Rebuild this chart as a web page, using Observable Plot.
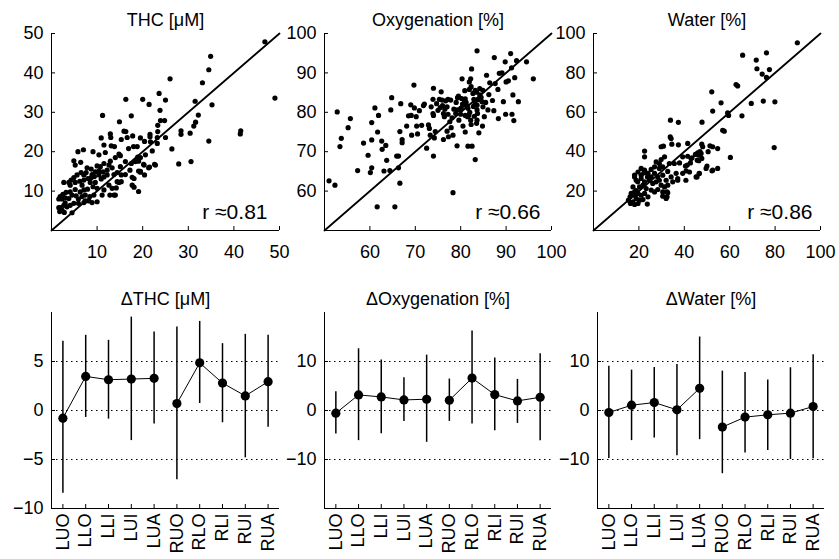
<!DOCTYPE html>
<html><head><meta charset="utf-8">
<script src="https://cdn.jsdelivr.net/npm/d3@7"></script>
<script src="https://cdn.jsdelivr.net/npm/@observablehq/plot@0.6"></script>
<style>
body{margin:0;background:#fff;}
#root{position:relative;width:839px;height:559px;overflow:hidden;background:#fff;}
#root svg{position:absolute;}
</style></head><body><div id="root"></div>
<script>
// ---------- DATA ----------
const scatterTitles = ["THC [μM]", "Oxygenation [%]", "Water [%]"];
const rLabels = ["r ≈0.81", "r ≈0.66", "r ≈0.86"];
const thcTicks = [10, 20, 30, 40, 50];
const oxyTicks = [60, 70, 80, 90, 100];
const waterTicks = [20, 40, 60, 80, 100];

const thcPoints = [
[46.8,47.9],[49.0,33.6],[34.9,44.2],[34.5,40.8],[33.1,37.5],[26.0,38.5],[31.5,32.8],[35.2,31.9],[32.2,29.3],[31.6,27.5],[31.2,26.5],[30.4,24.7],[34.5,22.7],[28.4,25.3],[28.4,24.4],[26.4,20.7],[27.9,16.9],[30.6,17.5],[41.5,25.3],[41.4,24.5],[16.3,33.3],[20.0,33.3],[21.4,32.0],[25.0,33.1],[23.6,34.8],[23.8,30.5],[23.9,27.9],[24.8,27.9],[23.3,26.7],[23.2,23.6],[25.0,23.6],[23.2,22.1],[21.6,24.4],[21.6,23.8],[20.6,19.2],[22.6,16.8],[21.3,15.9],[20.2,16.8],[19.5,14.8],[11.2,29.2],[14.9,27.6],[17.5,29.1],[16.3,25.1],[16.6,23.6],[17.8,24.0],[18.8,21.3],[12.9,24.5],[13.0,23.6],[10.9,23.5],[11.5,21.7],[14.8,19.4],[17.7,13.5],[18.1,11.0],[19.1,9.9],[13.7,9.0],[12.8,9.0],[15.3,12.4],[14.4,12.4],[7.0,20.5],[5.8,20.0],[4.9,17.7],[6.4,17.3],[9.1,20.0],[10.4,19.2],[2.7,12.2],[3.0,7.0],[1.6,5.8],[4.5,4.5],
[15.9,25.2],[15.3,23.1],[19.5,23.5],[21.7,22.5],[16.9,20.8],[18.0,21.3],[13.1,21.5],[13.8,21.3],[11.8,19.8],[15.1,19.0],[18.9,18.6],[19.5,18.5],[22.1,20.2],[5.2,16.6],[7.8,15.9],[8.7,15.6],[10.0,16.4],[10.7,16.2],[11.5,17.0],[12.6,16.6],[12.9,17.6],[13.3,15.9],[12.2,15.3],[11.3,14.9],[10.4,15.1],[9.6,14.9],[8.9,14.2],[7.6,14.7],[7.1,14.1],[6.5,14.7],[5.6,14.1],[4.9,13.4],[4.3,12.8],[3.8,12.2],[4.1,11.5],[5.2,12.2],[6.2,12.5],[7.1,12.8],[8.0,13.2],[8.7,13.4],[9.4,13.7],[10.4,14.1],[10.9,13.1],[11.5,13.6],[12.2,14.1],[13.7,14.2],[14.4,14.7],[15.3,14.1],[16.2,14.2],[17.2,15.3],[17.5,17.0],[18.4,17.5],[19.1,17.6],[18.1,13.2],[19.1,15.1],[20.3,16.6],[22.8,16.6],[17.7,11.5],[14.8,12.2],[14.2,10.8],[14.0,9.0],[11.1,9.0],[10.0,10.7],[9.1,11.1],[7.9,10.5],[7.1,10.3],[6.3,9.8],[5.2,10.4],[4.1,9.8],[3.2,9.7],[2.5,9.2],[1.9,8.6],[1.6,8.0],[2.3,8.0],[3.0,8.3],[3.8,8.1],[4.5,9.0],[5.4,8.8],[5.9,8.0],[6.7,8.6],[7.4,9.0],[8.4,8.6],[9.3,9.0],[10.0,7.3],[8.9,7.1],[8.2,7.5],[7.1,7.1],[5.9,6.9],[4.9,6.9],[4.1,6.4],[3.4,6.0],[2.7,6.4],[1.9,5.8],[1.8,4.8],[2.3,5.2],[2.8,4.6],[7.4,7.5],[11.5,10.3],[12.6,11.5],[13.3,10.7],[8.5,12.2],[9.6,12.2],[6.7,11.5],[15.1,16.2],[16.2,17.5],[14.0,18.5],
[20.4,22.6],[23.3,25.1],[19.5,15.0],[20.4,14.1],[21.5,16.1]
];

const oxyPoints = [
[51.0,62.6],[52.3,61.5],[52.8,80.1],[53.7,73.4],[53.4,71.3],[55.7,78.4],[55.2,76.1],[57.3,65.2],[58.6,72.2],[59.6,69.1],[60.1,64.7],[60.4,65.9],[60.4,73.0],[60.4,77.4],[61.1,81.1],[61.7,75.0],[61.9,79.2],[61.6,56.0],[62.6,72.7],[62.7,70.6],[63.5,71.6],[63.1,65.1],[63.7,67.8],[64.4,65.2],[64.8,83.7],[64.6,80.6],[65.5,56.0],[65.9,68.9],[66.3,68.9],[66.3,65.9],[66.6,62.0],[66.6,75.1],[66.8,82.2],[67.1,73.1],[67.1,72.3],[68.1,76.5],[68.5,79.1],[69.0,81.9],[69.1,79.2],[69.2,74.2],[69.7,86.9],[69.8,81.1],[70.2,78.9],[70.3,76.5],[70.5,74.5],[70.9,80.4],[71.4,76.7],[71.8,81.7],[72.0,82.1],[72.5,70.9],[72.9,76.8],[73.1,75.9],[73.3,74.2],[73.5,81.4],[73.9,83.3],[74.0,86.1],[73.9,79.7],[74.0,79.2],[74.2,73.5],[74.0,68.9],[74.4,75.1],[74.7,82.2],[75.3,83.3],[75.5,81.2],[75.7,85.2],[75.9,83.1],[76.0,81.7],[76.2,73.1],[76.2,79.7],[76.4,78.9],[76.7,82.9],[77.0,81.4],[77.2,83.3],[77.0,75.2],[77.3,73.8],[77.6,77.6],[77.8,83.1],[77.9,76.1],[78.1,78.6],[78.3,59.6],[78.3,74.2],[78.9,79.7],[79.2,80.6],[79.3,83.7],[79.5,84.1],[79.2,71.5],[79.9,80.6],[80.0,79.5],[80.1,80.9],[80.3,88.5],[80.4,82.1],[80.8,83.1],[81.0,83.4],[80.9,85.5],[81.4,81.6],[81.6,81.0],[81.5,78.9],[81.8,79.3],[81.9,87.7],[81.9,85.8],[82.2,88.5],[82.4,91.0],[81.6,71.4],[82.5,71.4],[82.3,76.9],[82.7,84.8],[82.9,83.3],[83.1,82.6],[83.2,85.6],[83.5,85.1],[83.2,68.0],[83.6,95.6],[83.6,80.6],[83.7,79.7],[83.6,78.0],[83.5,77.2],[84.0,74.8],[84.2,84.4],[84.7,82.7],[84.9,81.4],[84.9,85.6],[85.2,78.9],[85.7,89.4],[86.0,80.6],[86.4,87.5],[87.3,80.4],[87.4,93.9],[87.6,87.3],[88.2,85.8],[88.3,78.4],[88.5,89.9],[89.1,90.0],[89.4,82.7],[89.8,92.8],[90.0,87.7],[90.5,88.0],[89.9,79.5],[91.0,94.9],[91.2,91.3],[91.5,84.4],[91.3,79.5],[91.7,77.9],[91.9,88.8],[92.3,93.1],[92.7,82.7],[94.5,92.8],[96.0,88.5],
[80.5,81.8],[81.2,82.5],[80.2,83.5],[82.0,80.0],[82.8,81.5],[83.8,83.2],[81.0,79.2],[80.0,81.0],[79.0,82.5],[84.5,83.8],[83.0,79.0],[85.5,82.5],[84.2,86.0],[82.3,86.5],[83.6,81.8],[79.6,78.0],[78.5,80.8],[77.2,79.5],[76.5,80.8],[75.0,80.5],[84.8,76.5],[86.2,84.5],[87.0,83.0],[80.5,76.5],[81.0,75.0],[82.2,78.0]
];

const waterPoints = [
[89.8,95.3],[76.2,90.2],[65.7,89.0],[71.7,86.5],[72.0,82.1],[77.5,81.7],[74.3,79.4],[76.2,77.7],[62.8,74.1],[63.5,73.4],[52.1,70.4],[74.8,65.7],[79.9,65.3],[69.5,64.5],[56.2,64.8],[52.5,60.6],[59.1,59.7],[59.5,58.4],[65.4,58.2],[33.9,56.0],[37.4,54.9],[47.8,55.0],[56.9,50.9],[57.6,50.4],[33.8,47.5],[34.2,46.7],[34.5,43.8],[37.4,43.5],[41.5,44.2],[47.7,43.8],[48.1,42.5],[51.3,43.0],[52.5,42.5],[50.5,40.0],[46.9,40.0],[47.4,39.1],[44.9,38.6],[60.3,37.1],[79.6,42.1],[41.5,37.7],[43.4,36.9],[46.4,35.4],[47.7,36.6],[50.0,32.7],[52.2,30.3],[54.7,31.5],[46.6,28.9],[45.6,27.2],[42.7,34.3],[40.5,32.7],[40.8,30.3],[37.9,34.3],[37.1,25.5],[29.8,42.5],[22.5,40.3],[22.5,37.4],[32.7,19.1],[32.4,17.1],[23.7,13.4],
[30.8,42.8],[54.7,41.6],[29.8,36.0],[31.3,37.4],[27.6,34.8],[29.0,34.0],[33.4,34.0],[35.6,34.0],[39.3,37.4],[43.0,36.5],[45.9,39.4],[46.6,38.2],[45.7,35.7],[41.3,33.2],[42.3,29.7],[39.3,29.0],[45.2,27.2],[49.6,31.5],[21.0,31.5],[19.6,29.7],[22.5,30.6],[24.0,29.0],[25.4,31.0],[26.9,29.0],[28.3,27.2],[30.5,28.1],[32.0,25.5],[34.2,27.2],[34.9,24.7],[36.4,29.0],[18.1,28.1],[18.8,25.5],[21.0,26.4],[22.5,24.7],[24.6,25.5],[26.1,23.9],[27.6,24.7],[29.8,23.0],[31.3,22.1],[32.7,23.0],[20.3,22.1],[21.8,23.0],[23.2,21.3],[25.4,20.5],[26.9,19.6],[28.3,20.8],[30.5,19.6],[32.4,19.6],[30.5,17.4],[32.0,16.3],[17.4,22.1],[16.6,18.8],[18.1,19.6],[19.6,18.8],[21.0,17.9],[22.5,18.8],[24.0,17.1],[18.8,16.3],[20.3,15.4],[21.8,15.7],[17.4,14.5],[16.3,13.7],[18.1,13.2],[19.6,13.7],[16.1,17.1],[15.4,15.4],[18.1,17.9],[18.8,20.3],[19.5,24.7],[21.0,28.1],[22.2,29.3],[18.1,27.2],[23.8,27.2],[25.4,27.2],[26.9,32.3],[29.0,31.5],[30.5,32.3],[32.7,30.0],[29.0,25.5],[37.1,26.4],[40.7,25.5],[46.6,29.0],[52.5,30.6]
];

const sites = ["LUO","LLO","LLI","LUI","LUA","RUO","RLO","RLI","RUI","RUA"];
const sides = ["L","L","L","L","L","R","R","R","R","R"];
const deltaTitles = ["ΔTHC [μM]", "ΔOxygenation [%]", "ΔWater [%]"];

const dTHCmean = [-0.78, 3.48, 3.14, 3.21, 3.28, 0.71, 4.86, 2.80, 1.49, 2.94];
const dTHClo   = [-8.45, -0.71, -0.88, -3.07, -1.39, -7.06, 0.71, -1.25, -4.83, -1.72];
const dTHChi   = [7.06, 7.67, 7.16, 9.53, 8.00, 8.51, 9.09, 6.82, 7.77, 7.67];

const dOxyMean = [-0.54, 3.18, 2.77, 2.16, 2.30, 2.09, 6.62, 3.24, 1.96, 2.70];
const dOxyLo   = [-4.8, -6.15, -4.73, -2.23, -6.49, -2.23, -2.77, -4.12, -2.64, -6.15];
const dOxyHi   = [3.85, 12.6, 10.3, 6.69, 11.3, 6.42, 16.2, 10.7, 6.35, 11.6];

const dWaterMean = [-0.41, 1.08, 1.62, 0.14, 4.53, -3.38, -1.35, -0.88, -0.54, 0.81];
const dWaterLo   = [-9.8, -6.15, -5.6, -9.26, -5.95, -12.9, -8.65, -8.18, -10.0, -9.86];
const dWaterHi   = [9.05, 8.24, 8.78, 9.39, 15.0, 8.04, 7.77, 6.22, 8.72, 11.4];

const thcDeltaTicks = [-10, -5, 0, 5];
const thcDeltaGrid = [-5, 0, 5];
const pctDeltaTicks = [-10, 0, 10];
const pctDeltaGrid = [-10, 0, 10];

// ---------- DRAWING ----------
const FONT = '"Liberation Sans", Arial, Helvetica, sans-serif';
const root = document.getElementById("root");

function scatterPanel(c) {
  const mL = 50, mR = 20, mT = 33, mB = 40;
  const W = c.fw + mL + mR, H = c.fh + mT + mB;
  const svg = Plot.plot({
    width: W, height: H, marginLeft: mL, marginRight: mR, marginTop: mT, marginBottom: mB,
    style: {background: "none", overflow: "visible", fontFamily: FONT, fontSize: "18px", color: "#000"},
    x: {domain: c.domain},
    y: {domain: c.domain},
    marks: [
      Plot.ruleX([c.domain[0]], {stroke: "#000", strokeWidth: 1}),
      Plot.ruleY([c.domain[0]], {stroke: "#000", strokeWidth: 1}),
      Plot.tickX(c.ticks, {x: d => d, insetTop: c.fh - 4, stroke: "#000"}),
      Plot.tickY(c.ticks, {y: d => d, insetRight: c.fw - 4, stroke: "#000"}),
      Plot.axisX(c.ticks, {tickSize: 0, tickPadding: 15, fontSize: 18, label: null}),
      Plot.axisY(c.ticks, {tickSize: 0, tickPadding: 8, fontSize: 18, label: null}),
      Plot.line(c.domain, {x: d => d, y: d => d, stroke: "#000", strokeWidth: 1.8}),
      Plot.dot(c.points, {x: d => d[0], y: d => d[1], r: 2.6, fill: "#000", stroke: "none"}),
      Plot.text([c.title], {frameAnchor: "top", lineAnchor: "bottom", dy: -8, fontSize: 18, fill: "#000"}),
      Plot.text([c.r], {frameAnchor: "bottom-right", textAnchor: "end", lineAnchor: "bottom", dx: c.rdx, dy: -12, fontSize: 21, fill: "#000"})
    ]
  });
  svg.style.left = (c.left - mL) + "px";
  svg.style.top = (c.top - mT) + "px";
  root.appendChild(svg);
}

function deltaPanel(c) {
  const mL = 50, mR = 15, mT = 33, mB = 50;
  const W = c.fw + mL + mR, H = c.fh + mT + mB;
  const rows = sites.map((s, i) => ({i: i + 1, site: s, side: sides[i], m: c.mean[i], lo: c.lo[i], hi: c.hi[i]}));
  const idx = sites.map((s, i) => i + 1);
  const svg = Plot.plot({
    width: W, height: H, marginLeft: mL, marginRight: mR, marginTop: mT, marginBottom: mB,
    style: {background: "none", overflow: "visible", fontFamily: FONT, fontSize: "18px", color: "#000"},
    x: {domain: [0.5, 10.5]},
    y: {domain: c.domain},
    marks: [
      Plot.ruleY(c.grid, {stroke: "#000", strokeWidth: 1, strokeDasharray: "1.5,3.5"}),
      Plot.ruleX([0.5], {stroke: "#000", strokeWidth: 1}),
      Plot.ruleY([c.domain[0]], {stroke: "#000", strokeWidth: 1}),
      Plot.tickX(idx, {x: d => d, insetTop: c.fh - 4, stroke: "#000"}),
      Plot.tickY(c.ticks, {y: d => d, insetRight: c.fw - 4, stroke: "#000"}),
      Plot.axisX(idx, {tickSize: 0, tickPadding: 5, tickRotate: -90, textAnchor: "end", lineAnchor: "middle", tickFormat: i => sites[i - 1], fontSize: 18, label: null}),
      Plot.axisY(c.ticks, {tickSize: 0, tickPadding: 8, fontSize: 18, label: null}),
      Plot.ruleX(rows, {x: "i", y1: "lo", y2: "hi", stroke: "#000", strokeWidth: 1.5}),
      Plot.line(rows, {x: "i", y: "m", z: "side", stroke: "#000", strokeWidth: 1}),
      Plot.dot(rows, {x: "i", y: "m", r: 4.6, fill: "#000", stroke: "none"}),
      Plot.text([c.title], {frameAnchor: "top", lineAnchor: "bottom", dy: -8, fontSize: 18, fill: "#000"})
    ]
  });
  svg.style.left = (c.left - mL) + "px";
  svg.style.top = (c.top - mT) + "px";
  root.appendChild(svg);
}

scatterPanel({points: thcPoints, domain: [0, 50], ticks: thcTicks, title: scatterTitles[0], r: rLabels[0], rdx: -12, left: 51, top: 33, fw: 228, fh: 197});
scatterPanel({points: oxyPoints, domain: [50, 100], ticks: oxyTicks, title: scatterTitles[1], r: rLabels[1], rdx: -11, left: 324, top: 33, fw: 227, fh: 197});
scatterPanel({points: waterPoints, domain: [0, 100], ticks: waterTicks, title: scatterTitles[2], r: rLabels[2], rdx: -8, left: 593, top: 33, fw: 227, fh: 197});

deltaPanel({mean: dTHCmean, lo: dTHClo, hi: dTHChi, domain: [-10, 10], ticks: thcDeltaTicks, grid: thcDeltaGrid, title: deltaTitles[0], left: 51, top: 312, fw: 228, fh: 196});
deltaPanel({mean: dOxyMean, lo: dOxyLo, hi: dOxyHi, domain: [-20, 20], ticks: pctDeltaTicks, grid: pctDeltaGrid, title: deltaTitles[1], left: 324, top: 312, fw: 227, fh: 196});
deltaPanel({mean: dWaterMean, lo: dWaterLo, hi: dWaterHi, domain: [-20, 20], ticks: pctDeltaTicks, grid: pctDeltaGrid, title: deltaTitles[2], left: 597, top: 312, fw: 227, fh: 196});
</script></body></html>
